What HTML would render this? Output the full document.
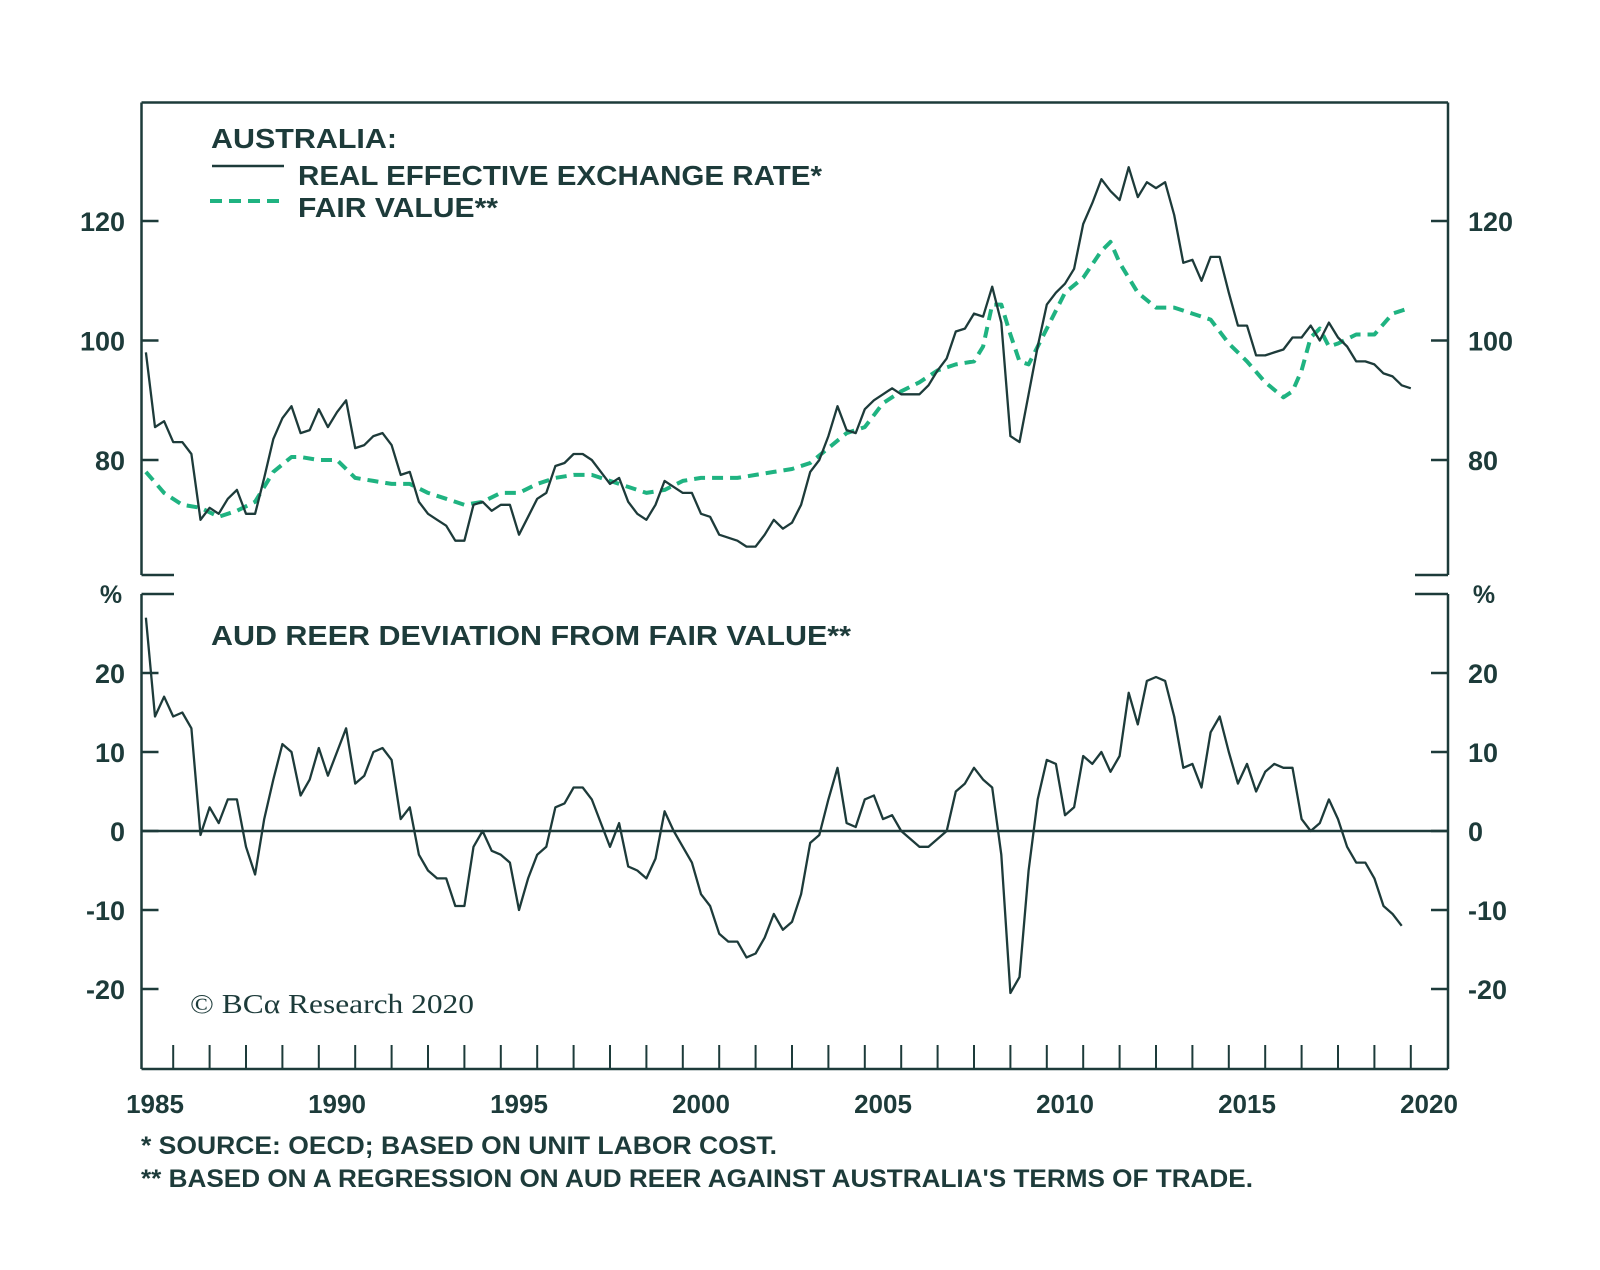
<!DOCTYPE html>
<html><head><meta charset="utf-8"><style>
html,body{margin:0;padding:0;background:#fff;}
svg{display:block;}
text{font-family:"Liberation Sans",sans-serif;fill:#1d3b3a;font-weight:bold;}
</style></head><body>
<svg id="chart" width="1600" height="1270" viewBox="0 0 1600 1270">
<g id="frame"></g>
<text x="211" y="148" font-size="28" textLength="186" lengthAdjust="spacingAndGlyphs">AUSTRALIA:</text>
<line x1="212" y1="166" x2="284" y2="166" stroke="#1d3b3a" stroke-width="2.5"/>
<text x="298" y="185" font-size="28" textLength="524" lengthAdjust="spacingAndGlyphs">REAL EFFECTIVE EXCHANGE RATE*</text>
<line x1="210" y1="201" x2="280" y2="201" stroke="#1fb381" stroke-width="4" stroke-dasharray="12,7"/>
<text x="298" y="217" font-size="28" textLength="200" lengthAdjust="spacingAndGlyphs">FAIR VALUE**</text>
<text x="211" y="645" font-size="28" textLength="640" lengthAdjust="spacingAndGlyphs">AUD REER DEVIATION FROM FAIR VALUE**</text>
<text x="190" y="1013" font-size="27" style="font-family:'Liberation Serif',serif;font-weight:normal" textLength="284" lengthAdjust="spacingAndGlyphs">© BCα Research 2020</text>
<text x="141" y="1154" font-size="25" textLength="636" lengthAdjust="spacingAndGlyphs">*  SOURCE: OECD; BASED ON UNIT LABOR COST.</text>
<text x="141" y="1187" font-size="25" textLength="1112" lengthAdjust="spacingAndGlyphs">** BASED ON A REGRESSION ON AUD REER AGAINST AUSTRALIA'S TERMS OF TRADE.</text>
<text x="111" y="603" font-size="25" text-anchor="middle">%</text>
<text x="1484" y="603" font-size="25" text-anchor="middle">%</text>
</svg>
<script>
const reerDates=[1984.75,1985,1985.25,1985.5,1985.75,1986,1986.25,1986.5,1986.75,1987,1987.25,1987.5,1987.75,1988,1988.25,1988.5,1988.75,1989,1989.25,1989.5,1989.75,1990,1990.25,1990.5,1990.75,1991,1991.25,1991.5,1991.75,1992,1992.25,1992.5,1992.75,1993,1993.25,1993.5,1993.75,1994,1994.25,1994.5,1994.75,1995,1995.25,1995.5,1995.75,1996,1996.25,1996.5,1996.75,1997,1997.25,1997.5,1997.75,1998,1998.25,1998.5,1998.75,1999,1999.25,1999.5,1999.75,2000,2000.25,2000.5,2000.75,2001,2001.25,2001.5,2001.75,2002,2002.25,2002.5,2002.75,2003,2003.25,2003.5,2003.75,2004,2004.25,2004.5,2004.75,2005,2005.25,2005.5,2005.75,2006,2006.25,2006.5,2006.75,2007,2007.25,2007.5,2007.75,2008,2008.25,2008.5,2008.75,2009,2009.25,2009.5,2009.75,2010,2010.25,2010.5,2010.75,2011,2011.25,2011.5,2011.75,2012,2012.25,2012.5,2012.75,2013,2013.25,2013.5,2013.75,2014,2014.25,2014.5,2014.75,2015,2015.25,2015.5,2015.75,2016,2016.25,2016.5,2016.75,2017,2017.25,2017.5,2017.75,2018,2018.25,2018.5,2018.75,2019,2019.25,2019.5];
const reerValues=[98,85.5,86.5,83,83,81,70,72,71,73.5,75,71,71,77,83.5,87,89,84.5,85,88.5,85.5,88,90,82,82.5,84,84.5,82.5,77.5,78,73,71,70,69,66.5,66.5,72.5,73,71.5,72.5,72.5,67.5,70.5,73.5,74.5,79,79.5,81,81,80,78,76,77,73,71,70,72.5,76.5,75.5,74.5,74.5,71,70.5,67.5,67,66.5,65.5,65.5,67.5,70,68.5,69.5,72.5,78,80,84,89,85,84.5,88.5,90,91,92,91,91,91,92.5,95,97,101.5,102,104.5,104,109,103,84,83,91,99,106,108,109.5,112,119.5,123,127,125,123.5,129,124,126.5,125.5,126.5,121,113,113.5,110,114,114,108,102.5,102.5,97.5,97.5,98,98.5,100.5,100.5,102.5,100,103,100.5,99,96.5,96.5,96,94.5,94,92.5,92];
const fairDates=[1984.75,1985.25,1985.75,1986.25,1986.75,1987.25,1987.75,1988.25,1988.75,1989,1989.5,1990,1990.5,1991,1991.5,1992,1992.5,1993,1993.5,1994,1994.5,1995,1995.5,1996,1996.5,1997,1997.5,1998,1998.5,1999,1999.5,2000,2000.5,2001,2001.5,2002,2002.5,2003,2003.5,2004,2004.5,2005,2005.5,2006,2006.5,2007,2007.5,2007.75,2008,2008.25,2008.5,2008.75,2009,2009.5,2010,2010.5,2011,2011.25,2011.5,2012,2012.5,2013,2013.5,2014,2014.5,2015,2015.5,2016,2016.25,2016.5,2016.75,2017,2017.25,2017.5,2018,2018.5,2019,2019.25,2019.5];
const fairValues=[78,74.5,72.5,72,70.5,71.5,73,78,80.5,80.5,80,80,77,76.5,76,76,74.5,73.5,72.5,73,74.5,74.5,76,77,77.5,77.5,76.5,75.5,74.5,75,76.5,77,77,77,77.5,78,78.5,79.5,82,84.5,85.5,89.5,91.5,93,95,96,96.5,99,106,106,101,96.5,96,102,108,110.5,115,116.5,113,108,105.5,105.5,104.5,103.5,99.5,96.5,93,90.5,91.5,95,100.5,102,99,99.5,101,101,104.5,105,105.5];
const devDates=reerDates.slice(0,139);
const devValues=[27,14.5,17,14.5,15,13,-0.5,3,1,4,4,-2,-5.5,1.5,6.5,11,10,4.5,6.5,10.5,7,10,13,6,7,10,10.5,9,1.5,3,-3,-5,-6,-6,-9.5,-9.5,-2,0,-2.5,-3,-4,-10,-6,-3,-2,3,3.5,5.5,5.5,4,1,-2,1,-4.5,-5,-6,-3.5,2.5,0,-2,-4,-8,-9.5,-13,-14,-14,-16,-15.5,-13.5,-10.5,-12.5,-11.5,-8,-1.5,-0.5,4,8,1,0.5,4,4.5,1.5,2,0,-1,-2,-2,-1,0,5,6,8,6.5,5.5,-3,-20.5,-18.5,-5,4,9,8.5,2,3,9.5,8.5,10,7.5,9.5,17.5,13.5,19,19.5,19,14.5,8,8.5,5.5,12.5,14.5,10,6,8.5,5,7.5,8.5,8,8,1.5,0,1,4,1.5,-2,-4,-4,-6,-9.5,-10.5,-12];
const upperTicks=[80,100,120];
const lowerTicks=[-20,-10,0,10,20];
const xLabels=[1985,1990,1995,2000,2005,2010,2015,2020];

const NS='http://www.w3.org/2000/svg';
const svg=document.getElementById('chart');
const frame=document.getElementById('frame');
const L=141.5,R=1448,TOP=102.5,UB=575,LT=594,BOT=1069;
const X=y=>155+(y-1985)*36.4;
const YU=v=>340.5-(v-100)*5.975;
const YL=v=>831-v*7.9;
const DARK='#1d3b3a';
function mk(tag,attrs,parent){const e=document.createElementNS(NS,tag);for(const k in attrs)e.setAttribute(k,attrs[k]);(parent||svg).appendChild(e);return e;}
const fl=[[L,TOP,R,TOP],[L,TOP,L,UB],[R,TOP,R,UB],[L,UB,174,UB],[R-33,UB,R,UB],[L,LT,174,LT],[R-33,LT,R,LT],[L,LT,L,BOT],[R,LT,R,BOT],[L,BOT,R,BOT]];
fl.forEach(c=>{const e=mk('line',{x1:c[0],y1:c[1],x2:c[2],y2:c[3],stroke:DARK,'stroke-width':2.5},frame);

});
upperTicks.forEach(v=>{const y=YU(v);
const a=mk('line',{x1:L,y1:y,x2:L+17,y2:y,stroke:DARK,'stroke-width':2.5});


const b=mk('line',{x1:R-17,y1:y,x2:R,y2:y,stroke:DARK,'stroke-width':2.5});


const t=mk('text',{x:125,y:y+10,'font-size':27,'text-anchor':'end'});t.textContent=v;


const t2=mk('text',{x:1468,y:y+10,'font-size':27});t2.textContent=v;

});
lowerTicks.forEach(v=>{const y=YL(v);
const a=mk('line',{x1:L,y1:y,x2:L+17,y2:y,stroke:DARK,'stroke-width':2.5});


const b=mk('line',{x1:R-17,y1:y,x2:R,y2:y,stroke:DARK,'stroke-width':2.5});


const t=mk('text',{x:125,y:y+10,'font-size':27,'text-anchor':'end'});t.textContent=v;


const t2=mk('text',{x:1468,y:y+10,'font-size':27});t2.textContent=v;

});
const z=mk('line',{x1:L,y1:YL(0),x2:R,y2:YL(0),stroke:DARK,'stroke-width':2.5});


for(let yr=1985.5;yr<2019.9;yr+=1){const x=X(yr);
const e=mk('line',{x1:x,y1:BOT-24,x2:x,y2:BOT,stroke:DARK,'stroke-width':2});

}
xLabels.forEach(yr=>{const t=mk('text',{x:X(yr),y:1113,'font-size':26,'text-anchor':'middle'});t.textContent=yr;

});
function path(ds,vs,yf){return ds.map((d,i)=>(i?'L':'M')+X(d).toFixed(1)+','+yf(vs[i]).toFixed(1)).join(' ');}
const fair=mk('path',{d:path(fairDates,fairValues,YU),fill:'none',stroke:'#1fb381','stroke-width':4,'stroke-dasharray':'11,7','stroke-linejoin':'round'});


const reer=mk('path',{d:path(reerDates,reerValues,YU),fill:'none',stroke:DARK,'stroke-width':2.3,'stroke-linejoin':'round'});


const dev=mk('path',{d:path(devDates,devValues,YL),fill:'none',stroke:DARK,'stroke-width':2.3,'stroke-linejoin':'round'});


</script>
</body></html>
